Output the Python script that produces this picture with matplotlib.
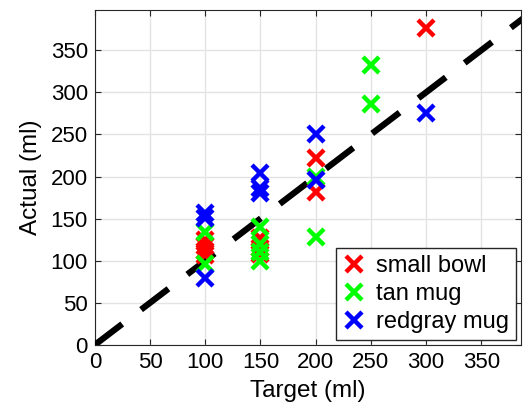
import matplotlib
matplotlib.use('Agg')
import matplotlib.pyplot as plt

plt.rcParams['font.family'] = ['Liberation Sans', 'DejaVu Sans']

# valores (ml)
bowl_target = [100, 100, 100, 100, 150, 150, 150, 200, 200, 300]
bowl_actual = [124, 118, 112, 107, 127, 115, 108, 222, 182, 376]

tan_target = [100, 100, 150, 150, 150, 150, 200, 200, 250, 250]
tan_actual = [134, 96, 140, 120, 110, 100, 200, 128, 332, 286]

redgray_target = [100, 100, 100, 150, 150, 150, 200, 200, 300]
redgray_actual = [157, 151, 80, 204, 186, 180, 250, 196, 276]

ticks = [0, 50, 100, 150, 200, 250, 300, 350]

fig = plt.figure(figsize=(5.3, 4.12), dpi=100)
ax = fig.add_axes([0.179, 0.163, 0.804, 0.813])

ax.plot([0, 400], [0, 400], color='black', linewidth=4.5, dashes=(5.5, 3.8), zorder=3)

mk = dict(linestyle='none', marker='x', markersize=11, markeredgewidth=3.2, zorder=4)
ax.plot(bowl_target, bowl_actual, color=(1, 0, 0), label='small bowl', **mk)
ax.plot(tan_target, tan_actual, color=(0, 1, 0), label='tan mug', **mk)
ax.plot(redgray_target, redgray_actual, color=(0, 0, 1), label='redgray mug', **mk)

ax.set_xlim(0, 386)
ax.set_ylim(0, 398)
ax.set_xticks(ticks)
ax.set_yticks(ticks)
ax.grid(True, color='#e3e3e3', linewidth=1)
ax.set_axisbelow(True)
ax.tick_params(direction='in', top=True, right=True, labelsize=16, length=4,
               color='#262626', pad=5)
for s in ax.spines.values():
    s.set_color('#262626')
ax.set_xlabel('Target (ml)', fontsize=17.5, labelpad=5)
ax.set_ylabel('Actual (ml)', fontsize=17.5, labelpad=6)

leg = ax.legend(loc='lower right', fontsize=17, fancybox=False, framealpha=1,
                edgecolor='#262626', handlelength=0.9, handletextpad=0.5,
                borderpad=0.3, labelspacing=0.25, borderaxespad=0.2)
leg.get_frame().set_linewidth(1)

fig.savefig('out.png', dpi=100)
